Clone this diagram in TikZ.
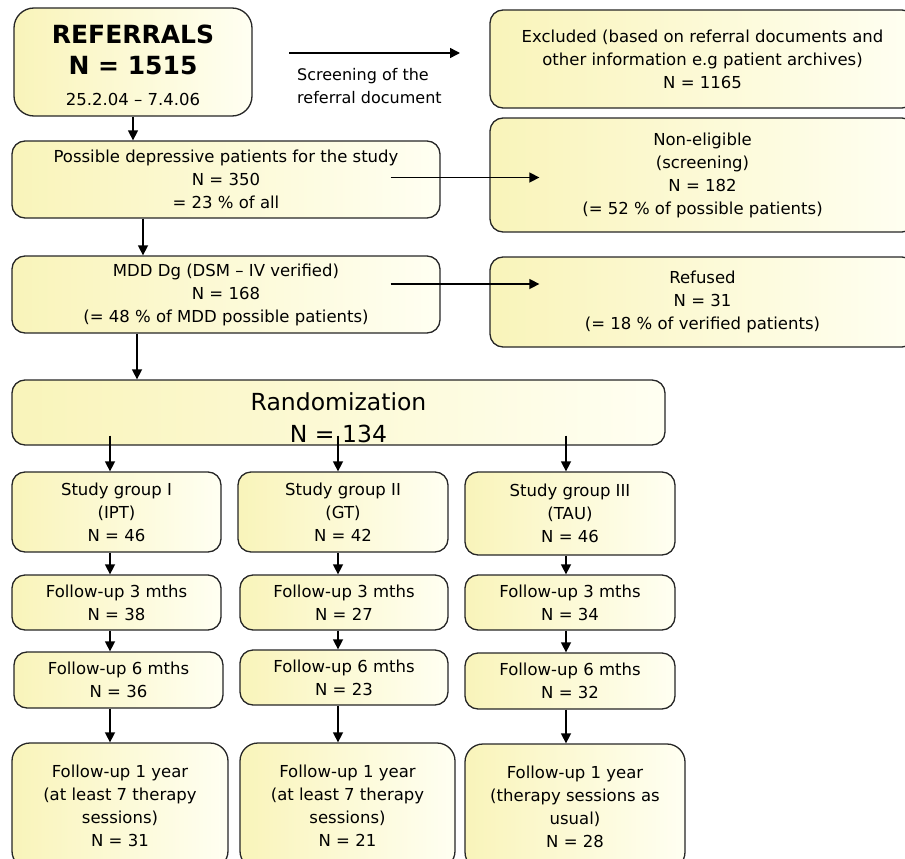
\documentclass[tikz,border=0pt]{standalone}
\usepackage{fontspec}
\setmainfont{DejaVu Sans}
\usetikzlibrary{arrows.meta}
\definecolor{boxyellow}{RGB}{249,244,186}
\definecolor{boxwhite}{RGB}{255,255,242}

\begin{document}
\begin{tikzpicture}[x=1pt, y=-1pt,
  box/.style={draw=black!85, line width=1.3pt, rounded corners=13pt,
    left color=boxyellow, right color=boxwhite, inner sep=0pt, align=center,
    font=\fontsize{16.5}{23}\selectfont},
  arr/.style={line width=1.5pt, -{Triangle[length=10pt,width=10pt]}}]
\useasboundingbox (0,0) rectangle (905,859);
\clip (0,0) rectangle (905,859);

% top: referrals and the boxes beside them
\node[box, minimum width=238pt, minimum height=108pt, rounded corners=20pt,
  font=\fontsize{25}{31}\selectfont\bfseries] (refs) at (133,62)
  {\rule{0pt}{26pt}REFERRALS\\ N = 1515\\ {\mdseries\fontsize{16.5}{20}\selectfont 25.2.04 -- 7.4.06}};
\node[box, minimum width=425pt, minimum height=98pt] (excl) at (702.5,59)
  {Excluded (based on referral documents and\\ other information e.g patient archives)\\ N = 1165};
\coordinate (scrA) at (289,53);
\coordinate (scrB) at (460,53);
\draw[arr] (scrA) -- (scrB);
\node[anchor=west, align=left, inner sep=0pt, font=\fontsize{16}{23}\selectfont] (scrtxt) at (297,86)
  {Screening of the\\ referral document};

\node[box, minimum width=428pt, minimum height=77pt] (poss) at (226,179.5)
  {Possible depressive patients for the study\\ N = 350\\ = 23 \% of all};
\node[box, minimum width=425pt, minimum height=114pt] (nonel) at (702.5,175)
  {Non-eligible\\ (screening)\\ N = 182\\ (= 52 \% of possible patients)};
\node[box, minimum width=428pt, minimum height=77pt] (mdd) at (226,294.5)
  {MDD Dg (DSM -- IV verified)\\ N = 168\\ (= 48 \% of MDD possible patients)};
\node[box, minimum width=425pt, minimum height=90pt] (refused) at (702.5,302)
  {Refused\\ N = 31\\ (= 18 \% of verified patients)};

\node[box, minimum width=653pt, minimum height=65pt,
  font=\fontsize{23.5}{32}\selectfont] (rand) at (338.5,412.5)
  {\rule{0pt}{28pt}Randomization\\ N = 134};

% the three groups
\node[box, minimum width=209pt, minimum height=80pt] (sg1) at (116.5,512)
  {Study group I\\ (IPT)\\ N = 46};
\node[box, minimum width=210pt, minimum height=80pt] (sg2) at (343,512)
  {Study group II\\ (GT)\\ N = 42};
\node[box, minimum width=210pt, minimum height=83pt] (sg3) at (570,513.5)
  {Study group III\\ (TAU)\\ N = 46};

\node[box, minimum width=209pt, minimum height=55pt] (three1) at (116.5,602.5)
  {Follow-up 3 mths\\ N = 38};
\node[box, minimum width=208pt, minimum height=55pt] (three2) at (344,602.5)
  {Follow-up 3 mths\\ N = 27};
\node[box, minimum width=210pt, minimum height=55pt] (three3) at (570,602.5)
  {Follow-up 3 mths\\ N = 34};

\node[box, minimum width=209pt, minimum height=56pt] (six1) at (118.5,680)
  {Follow-up 6 mths\\ N = 36};
\node[box, minimum width=208pt, minimum height=55pt] (six2) at (344,677.5)
  {Follow-up 6 mths\\ N = 23};
\node[box, minimum width=210pt, minimum height=56pt] (six3) at (570,681)
  {Follow-up 6 mths\\ N = 32};

\node[box, minimum width=216pt, minimum height=126pt, rounded corners=18pt] (year1) at (120,806)
  {Follow-up 1 year\\ (at least 7 therapy\\ sessions)\\ N = 31};
\node[box, minimum width=215pt, minimum height=126pt, rounded corners=18pt] (year2) at (347.5,806)
  {Follow-up 1 year\\ (at least 7 therapy\\ sessions)\\ N = 21};
\node[box, minimum width=220pt, minimum height=126pt, rounded corners=18pt] (year3) at (575,807)
  {Follow-up 1 year\\ (therapy sessions as\\ usual)\\ N = 28};

% arrows
\draw[arr] (refs.south) -- (refs.south |- poss.north);
\coordinate (trunkA) at ([xshift=-83pt]poss.south);
\draw[arr] (trunkA) -- (trunkA |- mdd.north);
\coordinate (trunkB) at ([xshift=-89pt]mdd.south);
\draw[arr] (trunkB) -- (trunkB |- rand.north);

\coordinate (possout) at ([xshift=-50pt,yshift=2pt]poss.east);
\coordinate (nonelin) at ([xshift=50pt]nonel.west);
\draw[arr] (possout) -- (possout -| nonelin);
\coordinate (mddout) at ([xshift=-50pt,yshift=10.5pt]mdd.east);
\coordinate (refin) at ([xshift=50pt]refused.west);
\draw[arr] (mddout) -- (mddout -| refin);

\coordinate (randbot) at ([yshift=10pt]rand.south);
\coordinate (col1) at (110,0);
\coordinate (col2) at (338,0);
\coordinate (col3) at (566,0);
\foreach \i in {1,2,3} {
  \draw[arr] (col\i |- randbot) -- (col\i |- sg\i.north);
  \draw[arr] (col\i |- sg\i.south) -- (col\i |- three\i.north);
  \draw[arr] (col\i |- three\i.south) -- (col\i |- six\i.north);
  \draw[arr] (col\i |- six\i.south) -- (col\i |- year\i.north);
}
\end{tikzpicture}
\end{document}
